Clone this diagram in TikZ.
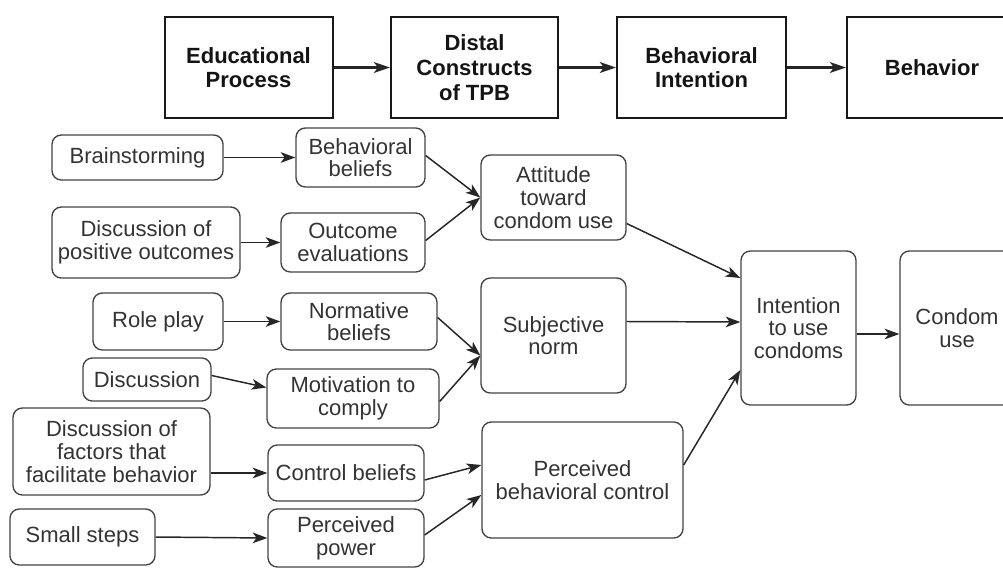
\documentclass[tikz,border=0pt]{standalone}
\usepackage{fontspec}
\setmainfont{Liberation Sans}
\usetikzlibrary{arrows.meta,calc}

\definecolor{ink}{HTML}{333333}
\definecolor{edge}{HTML}{444444}

\tikzset{
  sz/.style 2 args={minimum width=#1*0.75pt, minimum height=#2*0.75pt},
  headbox/.style={draw=black!90, line width=1.5pt, inner sep=0pt, align=center,
    font=\bfseries\fontsize{16.5}{18.5}\selectfont, text=black!92},
  ebox/.style={draw=edge, line width=1pt, rounded corners=7pt, inner sep=0pt,
    align=center, font=\fontsize{16.5}{17}\selectfont, text=ink},
  headarrow/.style={draw=black!85, line width=2pt,
    -{Stealth[length=12pt,width=8pt,inset=3pt]}},
  link/.style={draw=black!85, line width=1.1pt,
    -{Stealth[length=11pt,width=8pt,inset=3pt]}}
}

\begin{document}
\begin{tikzpicture}[x=0.75pt,y=-0.75pt]
\useasboundingbox (0,0) rectangle (1003,568);
\clip (0,0) rectangle (1003,568);

% top row: stages of the programme
\node[headbox, sz={168}{101}] (h1) at (248.5,67.5) {Educational\\Process};
\node[headbox, sz={167}{101}] (h2) at (474.5,67.5) {Distal\\Constructs\\of TPB};
\node[headbox, sz={169}{101}] (h3) at (701.5,67.5) {Behavioral\\Intention};
\node[headbox, sz={170}{101}] (h4) at (932,67.5) {Behavior};

\draw[headarrow] (h1.east) -- (h2.west);
\draw[headarrow] (h2.east) -- (h3.west);
\draw[headarrow] (h3.east) -- (h4.west);

% educational activities
\node[ebox, sz={171}{45}] (bs)   at (137.5,157.5) {Brainstorming};
\node[ebox, sz={188}{71}] (dpo)  at (146,242.5)   {Discussion of\\positive outcomes};
\node[ebox, sz={130}{57}] (rp)   at (158,321.5)   {Role play};
\node[ebox, sz={128}{43}] (disc) at (147,379.5)   {Discussion};
\node[ebox, sz={197}{87}] (fac)  at (111.5,451.5) {Discussion of\\factors that\\facilitate behavior};
\node[ebox, sz={145}{56}] (ss)   at (82.5,537)    {Small steps};

% beliefs and evaluations
\node[ebox, sz={129}{59}] (bb)  at (360.5,157.5) {Behavioral\\beliefs};
\node[ebox, sz={144}{59}] (oe)  at (353,242.5)   {Outcome\\evaluations};
\node[ebox, sz={156}{57}] (nb)  at (359,321.5)   {Normative\\beliefs};
\node[ebox, sz={172}{59}] (mtc) at (353,398.5)   {Motivation to\\comply};
\node[ebox, sz={156}{56}] (cb)  at (346,473)     {Control beliefs};
\node[ebox, sz={156}{58}] (pp)  at (346,538)     {Perceived\\power};

% TPB constructs
\node[ebox, sz={145}{85}]  (att) at (553.5,197.5) {Attitude\\toward\\condom use};
\node[ebox, sz={145}{115}] (sn)  at (553.5,335.5) {Subjective\\norm};
\node[ebox, sz={201}{116}] (pbc) at (582.5,480)   {Perceived\\behavioral control};

% intention and behaviour
\node[ebox, sz={115}{154}] (int) at (798.5,328) {Intention\\to use\\condoms};
\node[ebox, sz={114}{154}] (cu)  at (957,328)   {Condom\\use};

% activities to beliefs
\draw[link] (bs.east) -- (bb.west);
\draw[link] (dpo.east) -- (oe.west);
\draw[link] (rp.east) -- (nb.west);
\draw[link] ($(disc.east)+(0,-4)$) -- ($(mtc.west)+(0,-11)$);
\draw[link] (fac.east |- cb.west) -- (cb.west);
\draw[link] (ss.east) -- (pp.west);

% beliefs to constructs
\draw[link] ($(bb.east)+(0,-2)$) -- (att.west);
\draw[link] ($(oe.east)+(0,-2)$) -- (att.west);
\draw[link] ($(nb.east)+(0,-4)$) -- ($(sn.west)+(0,20)$);
\draw[link] ($(mtc.east)+(0,3)$) -- ($(sn.west)+(0,20)$);
\draw[link] ($(cb.east)+(0,7)$) -- ($(pbc.west)+(0,-15)$);
\draw[link] ($(pp.east)+(0,-3)$) -- ($(pbc.west)+(0,15)$);

% constructs to intention
\draw[link] ($(att.east)+(0,26)$) -- ($(int.west)+(0,-50)$);
\draw[link] ($(sn.east)+(0,-14)$) -- ($(int.west)+(0,-6)$);
\draw[link] ($(pbc.east)+(0,-15)$) -- ($(int.west)+(0,42)$);
\draw[link] ($(int.east)+(0,6)$) -- ($(cu.west)+(0,6)$);
\end{tikzpicture}
\end{document}
